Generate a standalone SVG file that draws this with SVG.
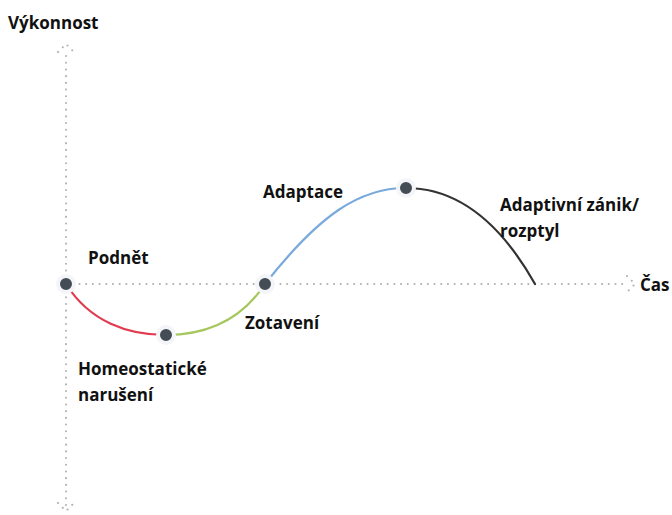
<svg xmlns="http://www.w3.org/2000/svg" width="672" height="515" viewBox="0 0 672 515">
<style>
.t{font-family:"Open Sans","Noto Sans",sans-serif;font-weight:700;font-size:17px;fill:#111}
.ax{fill:none;stroke:#b0b0b0;stroke-width:2;stroke-linecap:round;stroke-dasharray:0.1 6.6}
.c{fill:none;stroke-width:2.2;stroke-linecap:round}
.n{fill:#444c56;stroke:#f3f5f8;stroke-width:4}
</style>
<rect width="672" height="515" fill="#fff"/>
<g id="axes">
<path class="ax" d="M66,505 V52"/>
<path class="ax" d="M58,52 L66,44 L74,52"/>
<path class="ax" d="M58,503 L66,511 L74,503"/>
<path class="ax" d="M66,284 H628"/>
<path class="ax" d="M627,276 L635,284 L627,292"/>
</g>
<g id="connectors">
<path class="c" stroke="#e23b50" d="M66,284 C90,322 128,335 166,335"/>
<path class="c" stroke="#a6c75d" d="M166,335 C204,335 240,322 265,284"/>
<path class="c" stroke="#7aa9dc" d="M265,284 C320,214 360,188 406,188"/>
<path class="c" stroke="#333" d="M406,188 C458,188 500,222 535,284"/>
</g>
<g id="node-podnet"><circle class="n" cx="66" cy="284" r="8"/><text class="t" x="88" y="264">Podnět</text></g>
<g id="node-homeostaticke"><circle class="n" cx="166" cy="335" r="8"/><text class="t" x="78" y="375">Homeostatické</text><text class="t" x="78" y="401">narušení</text></g>
<g id="node-zotaveni"><circle class="n" cx="265" cy="284" r="8"/><text class="t" x="245" y="329">Zotavení</text></g>
<g id="node-adaptace"><circle class="n" cx="406" cy="188" r="8"/><text class="t" x="263" y="198">Adaptace</text></g>
<g id="node-zanik"><text class="t" x="500" y="211">Adaptivní zánik/</text><text class="t" x="500" y="237">rozptyl</text></g>
<g id="labels"><text class="t" x="8" y="29">Výkonnost</text><text class="t" x="640" y="291">Čas</text></g>
</svg>
